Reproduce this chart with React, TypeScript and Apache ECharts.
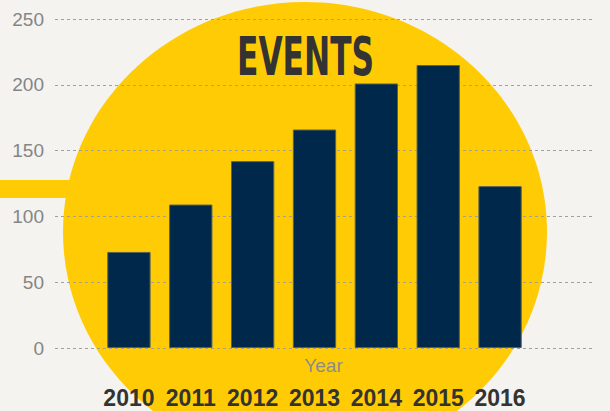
import React, { useEffect, useRef } from "react";
import * as echarts from "echarts";

const years = ["2010", "2011", "2012", "2013", "2014", "2015", "2016"];
const events = [73, 109, 142, 166, 201, 215, 123];
const yMin = 0;
const yMax = 250;
const yStep = 50;
const titleText = "EVENTS";
const axisName = "Year";

function measure(text: string, font: string): number {
  const c = document.createElement("canvas");
  const ctx = c.getContext("2d");
  if (!ctx) return 137;
  ctx.font = font;
  return ctx.measureText(text).width;
}

export default function App() {
  const ref = useRef<HTMLDivElement>(null);
  useEffect(() => {
    document.body.style.margin = "0";
    if (!ref.current) return;
    const chart = echarts.init(ref.current, null, { renderer: "svg" });
    const titleFamily = '"DejaVu Sans Condensed", "DejaVu Sans", sans-serif';
    const titleSize = 54;
    const tw = measure(titleText, `bold ${titleSize}px ${titleFamily}`);
    const sx = 137 / tw;
    const option: any = {
      animation: false,
      backgroundColor: "#f4f3ef",
      grid: [
        { left: 55, right: 15, top: 19, bottom: 63, containLabel: false, outerBoundsMode: "none" },
        { left: 98, right: 79, top: 19, bottom: 63, containLabel: false, outerBoundsMode: "none" },
      ],
      xAxis: [
        { type: "value", gridIndex: 0, show: false },
        {
          type: "category",
          gridIndex: 1,
          data: years,
          axisLine: { show: false },
          axisTick: { show: false },
          axisLabel: {
            interval: 0,
            margin: 38,
            fontSize: 23,
            fontWeight: "bold",
            color: "#333333",
            fontFamily: '"Liberation Sans", Arial, sans-serif',
          },
          name: axisName,
          nameLocation: "middle",
          nameGap: 8,
          nameMoveOverlap: false,
          nameTextStyle: {
            fontSize: 19,
            color: "#8c8c8c",
            fontFamily: '"Liberation Sans", Arial, sans-serif',
            padding: [0, 0, 0, 18],
          },
        },
      ],
      yAxis: [
        {
          type: "value",
          gridIndex: 0,
          min: yMin,
          max: yMax,
          interval: yStep,
          axisLine: { show: false },
          axisTick: { show: false },
          axisLabel: {
            margin: 11,
            fontSize: 19,
            color: "#858585",
            fontFamily: '"Liberation Sans", Arial, sans-serif',
          },
          splitLine: {
            show: true,
            lineStyle: { type: [3, 3], color: "#a0a0a0", width: 1 },
          },
        },
        {
          type: "value",
          gridIndex: 1,
          min: yMin,
          max: yMax,
          interval: yStep,
          show: false,
          splitLine: { show: false },
        },
      ],
      series: [
        {
          type: "bar",
          xAxisIndex: 1,
          yAxisIndex: 1,
          data: events,
          barWidth: "70%",
          itemStyle: {
            color: "#00284b",
            borderColor: "#55615a",
            borderWidth: 1,
          },
        },
      ],
      graphic: [
        {
          type: "ellipse",
          z: -10,
          silent: true,
          shape: { cx: 305, cy: 232, rx: 242, ry: 230 },
          style: { fill: "#ffcb05" },
        },
        {
          type: "rect",
          z: -10,
          silent: true,
          shape: { x: 0, y: 180, width: 120, height: 18 },
          style: { fill: "#ffcb05" },
        },
        {
          type: "text",
          z: 100,
          x: 305.5,
          y: 56.5,
          scaleX: sx,
          scaleY: 1,
          style: {
            text: titleText,
            fill: "#333333",
            font: `bold ${titleSize}px ${titleFamily}`,
            textAlign: "center",
            textVerticalAlign: "middle",
          },
        },
      ],
    };
    chart.setOption(option);
    return () => chart.dispose();
  }, []);
  return <div ref={ref} style={{ width: 610, height: 411 }} />;
}
